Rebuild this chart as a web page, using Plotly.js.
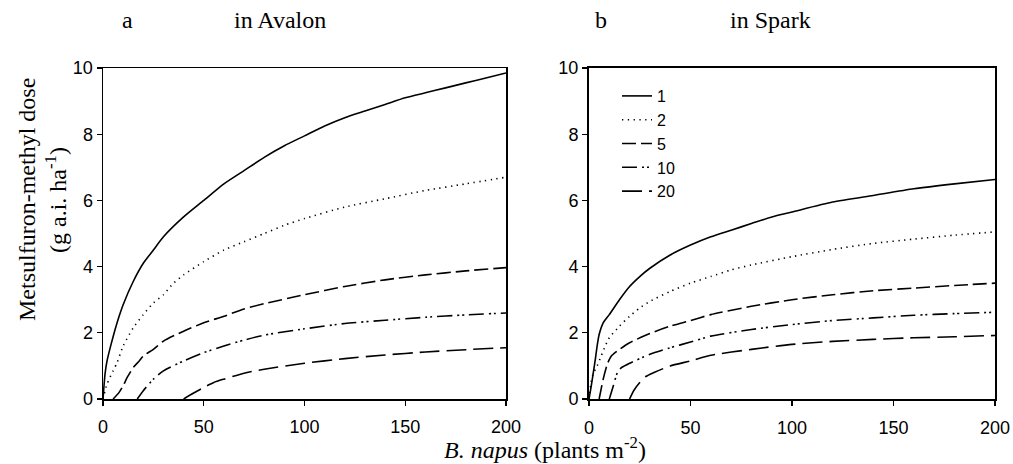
<!DOCTYPE html>
<html>
<head>
<meta charset="utf-8">
<script src="https://cdn.plot.ly/plotly-3.0.1.min.js"></script>
<style>html,body{margin:0;padding:0;background:#fff;}#chart{width:1013px;height:464px;}</style>
</head>
<body>
<div id="chart"></div>
<script>
// ---- Data ----
const densityLabels = ["1", "2", "5", "10", "20"];

// Avalon (panel a)
const avalon1X = [0, 1, 2, 4, 6, 8, 10, 15, 20, 25, 30, 40, 50, 60, 70, 80, 90, 100, 110, 120, 130, 140, 150, 160, 170, 180, 190, 200];
const avalon1Y = [0, 0.75, 1.15, 1.65, 2.1, 2.5, 2.85, 3.55, 4.1, 4.5, 4.9, 5.5, 6.0, 6.5, 6.9, 7.3, 7.65, 7.95, 8.25, 8.5, 8.7, 8.9, 9.1, 9.25, 9.4, 9.55, 9.7, 9.85];
const avalon2X = [0, 2, 5, 7, 10, 15, 20, 25, 30, 35, 40, 50, 60, 70, 80, 90, 100, 120, 140, 160, 180, 200];
const avalon2Y = [0, 0.45, 0.85, 1.1, 1.6, 2.15, 2.55, 2.9, 3.15, 3.5, 3.75, 4.15, 4.5, 4.75, 5.0, 5.25, 5.45, 5.8, 6.05, 6.3, 6.5, 6.7];
const avalon5X = [5, 8, 10, 12, 15, 18, 20, 25, 30, 40, 50, 60, 70, 80, 100, 120, 140, 160, 180, 200];
const avalon5Y = [0, 0.2, 0.4, 0.65, 0.95, 1.15, 1.3, 1.5, 1.75, 2.05, 2.3, 2.5, 2.72, 2.88, 3.15, 3.4, 3.6, 3.75, 3.87, 3.97];
const avalon10X = [17, 20, 25, 30, 40, 50, 60, 70, 80, 100, 120, 140, 160, 180, 200];
const avalon10Y = [0, 0.25, 0.6, 0.85, 1.15, 1.4, 1.6, 1.78, 1.93, 2.12, 2.28, 2.38, 2.47, 2.54, 2.6];
const avalon20X = [40, 45, 50, 55, 60, 70, 80, 100, 120, 140, 160, 180, 200];
const avalon20Y = [0, 0.18, 0.35, 0.5, 0.6, 0.78, 0.9, 1.08, 1.22, 1.33, 1.42, 1.49, 1.55];

// Spark (panel b)
const spark1X = [0, 1, 2, 3, 4, 5, 7, 10, 15, 20, 25, 30, 40, 50, 60, 70, 80, 90, 100, 120, 140, 160, 180, 200];
const spark1Y = [0, 0.35, 0.75, 1.15, 1.6, 1.95, 2.3, 2.55, 3.0, 3.4, 3.7, 3.95, 4.35, 4.65, 4.9, 5.1, 5.3, 5.5, 5.65, 5.95, 6.15, 6.35, 6.5, 6.63];
const spark2X = [0, 1, 2, 4, 6, 8, 10, 15, 20, 25, 30, 40, 50, 60, 70, 80, 100, 120, 140, 160, 180, 200];
const spark2Y = [0, 0.5, 0.75, 1.0, 1.3, 1.6, 1.85, 2.2, 2.5, 2.75, 2.95, 3.25, 3.5, 3.7, 3.9, 4.05, 4.3, 4.52, 4.7, 4.83, 4.95, 5.05];
const spark5X = [5, 7, 9, 11, 15, 20, 30, 40, 50, 60, 80, 100, 120, 140, 160, 180, 200];
const spark5Y = [0, 0.6, 1.05, 1.3, 1.5, 1.7, 1.98, 2.2, 2.37, 2.55, 2.8, 3.0, 3.15, 3.27, 3.35, 3.43, 3.5];
const spark10X = [10, 12, 14, 16, 20, 30, 40, 50, 60, 80, 100, 120, 140, 160, 180, 200];
const spark10Y = [0, 0.4, 0.8, 0.95, 1.08, 1.35, 1.55, 1.72, 1.9, 2.1, 2.25, 2.37, 2.45, 2.53, 2.58, 2.62];
const spark20X = [20, 22, 25, 28, 32, 40, 50, 60, 80, 100, 120, 140, 160, 180, 200];
const spark20Y = [0, 0.25, 0.5, 0.68, 0.8, 1.0, 1.15, 1.32, 1.5, 1.65, 1.74, 1.8, 1.85, 1.88, 1.92];

const xTicks = [0, 50, 100, 150, 200];
const yTicks = [0, 2, 4, 6, 8, 10];

// ---- Styles ----
const styles = [
  {dash: "solid", width: 1.6},
  {dash: "1.3px,4.5px", width: 1.6},
  {dash: "14px,5px", width: 1.6},
  {dash: "15px,5px,2px,3px,2px,5px", width: 1.6},
  {dash: "20px,7px", width: 1.6}
];

const avalonSets = [[avalon1X, avalon1Y], [avalon2X, avalon2Y], [avalon5X, avalon5Y], [avalon10X, avalon10Y], [avalon20X, avalon20Y]];
const sparkSets = [[spark1X, spark1Y], [spark2X, spark2Y], [spark5X, spark5Y], [spark10X, spark10Y], [spark20X, spark20Y]];

const traces = [];
avalonSets.forEach((s, i) => {
  traces.push({x: s[0], y: s[1], xaxis: "x", yaxis: "y", type: "scatter", mode: "lines",
    line: {color: "#000", dash: styles[i].dash, width: styles[i].width, shape: "spline", smoothing: 0.6},
    name: densityLabels[i], showlegend: false, hoverinfo: "skip"});
});
sparkSets.forEach((s, i) => {
  traces.push({x: s[0], y: s[1], xaxis: "x2", yaxis: "y2", type: "scatter", mode: "lines",
    line: {color: "#000", dash: styles[i].dash, width: styles[i].width, shape: "spline", smoothing: 0.6},
    name: densityLabels[i], showlegend: true, hoverinfo: "skip"});
});

const L = 103, R = 18, T = 68, B = 65;
const W = 1013, H = 464;
const pw = W - L - R, ph = H - T - B;
const px = v => (v - L) / pw;
const py = v => (H - B - v) / ph;

const tickFont = {family: "Liberation Sans, Arial, sans-serif", size: 18, color: "#000"};
const serif = "Liberation Serif, Times New Roman, serif";
const titleFont = {family: serif, size: 24, color: "#000"};

function xAx(domain, lw) {
  return {domain: domain, range: [0, 200], tickvals: xTicks, ticktext: xTicks.map(String),
    showgrid: false, zeroline: false, showline: true, linecolor: "#000", linewidth: lw, mirror: true,
    ticks: "outside", ticklen: 5, tickwidth: 1.2, tickcolor: "#000", tickfont: tickFont,
    ticklabelstandoff: 6, fixedrange: true};
}
function yAx(anchor, lw) {
  return {anchor: anchor, range: [0, 10], tickvals: yTicks, ticktext: yTicks.map(String),
    showgrid: false, zeroline: false, showline: true, linecolor: "#000", linewidth: lw, mirror: true,
    ticks: "outside", ticklen: 5, tickwidth: 1.2, tickcolor: "#000", tickfont: tickFont, fixedrange: true};
}

function ann(text, x, y, extra) {
  return Object.assign({text: text, x: px(x), y: py(y), xref: "paper", yref: "paper", showarrow: false,
    xanchor: "center", yanchor: "middle", font: titleFont}, extra || {});
}

const layout = {
  width: W, height: H,
  margin: {l: L, r: R, t: T, b: B, pad: 0},
  paper_bgcolor: "#fff", plot_bgcolor: "#fff",
  xaxis: xAx([0, px(506)], 1.5),
  yaxis: yAx("x", 1.5),
  xaxis2: Object.assign(xAx([px(589), 1], 2), {anchor: "y2"}),
  yaxis2: yAx("x2", 2),
  showlegend: true,
  legend: {x: px(617), y: py(79), xanchor: "left", yanchor: "top", bgcolor: "rgba(0,0,0,0)",
    font: {family: "Liberation Sans, Arial, sans-serif", size: 16, color: "#000"}, tracegroupgap: 0},
  annotations: [
    ann("a", 127, 20),
    ann("in Avalon", 280, 20),
    ann("b", 601, 20),
    ann("in Spark", 770, 20),
    ann("Metsulfuron-methyl dose", 27, 200, {textangle: -90}),
    ann("(g a.i. ha<sup>-1</sup>)", 56, 200, {textangle: -90}),
    ann("<i>B. napus</i> (plants m<sup>-2</sup>)", 545, 465, {yanchor: "bottom"})
  ]
};

Plotly.newPlot("chart", traces, layout, {displayModeBar: false, staticPlot: true});
</script>
</body>
</html>
